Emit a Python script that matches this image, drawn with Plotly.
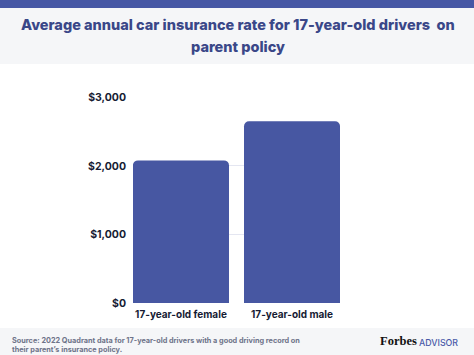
import plotly.graph_objects as go

categories = ["17-year-old female", "17-year-old male"]
rates = [2080, 2650]
tick_vals = [0, 1000, 2000, 3000]
tick_text = ["$0", "$1,000", "$2,000", "$3,000"]

W, H = 474, 355
ML, MR, MT, MB = 133, 134, 97, 52
PW, PH = W - ML - MR, H - MT - MB

def px_x(x):
    return (x - ML) / PW

def px_y(y):
    return (H - MB - y) / PH

BLUE = "#4757A2"
NAVY = "#3A4788"
DARK = "#161B33"

fig = go.Figure(go.Bar(
    x=categories, y=rates, marker=dict(color=BLUE, line=dict(width=0)),
    width=0.865, hoverinfo="skip",
))

shapes = [
    dict(type="rect", xref="paper", yref="paper", x0=px_x(-5), x1=px_x(W + 5),
         y0=px_y(-5), y1=px_y(8), fillcolor="#4657A5", line=dict(width=0), layer="below"),
    dict(type="rect", xref="paper", yref="paper", x0=px_x(-5), x1=px_x(W + 5),
         y0=px_y(8), y1=px_y(64), fillcolor="#F5F6F8", line=dict(width=0), layer="below"),
    dict(type="rect", xref="paper", yref="paper", x0=px_x(-5), x1=px_x(W + 5),
         y0=px_y(328), y1=px_y(H + 5), fillcolor="#F5F6F8", line=dict(width=0), layer="below"),
]

TF = "Inter"
annotations = [
    dict(text="Average annual car insurance rate for 17-year-old drivers  on",
         xref="paper", yref="paper", x=px_x(238), y=px_y(25), xanchor="center", yanchor="middle",
         showarrow=False, font=dict(family=TF, size=14.5, color=NAVY, weight=800)),
    dict(text="parent policy",
         xref="paper", yref="paper", x=px_x(238), y=px_y(46), xanchor="center", yanchor="middle",
         showarrow=False, font=dict(family=TF, size=14.5, color=NAVY, weight=800)),
    dict(text="Source: 2022 Quadrant data for 17-year-old drivers with a good driving record on",
         xref="paper", yref="paper", x=px_x(10), y=px_y(340.5), xanchor="left", yanchor="middle",
         showarrow=False, font=dict(family=TF, size=7.3, color="#6E7389", weight=700)),
    dict(text="their parent\u2019s insurance policy.",
         xref="paper", yref="paper", x=px_x(10), y=px_y(349.5), xanchor="left", yanchor="middle",
         showarrow=False, font=dict(family=TF, size=7.3, color="#6E7389", weight=700)),
    dict(text="Forbes",
         xref="paper", yref="paper", x=px_x(378), y=px_y(341), xanchor="left", yanchor="middle",
         showarrow=False, font=dict(family="Liberation Serif", size=12.5, color="#111111", weight=700)),
    dict(text="ADVISOR",
         xref="paper", yref="paper", x=px_x(417), y=px_y(342), xanchor="left", yanchor="middle",
         showarrow=False, font=dict(family=TF, size=8.8, color="#4A5BA8", weight=500)),
]

fig.update_layout(
    width=W, height=H,
    margin=dict(l=ML, r=MR, t=MT, b=MB, pad=0),
    paper_bgcolor="white", plot_bgcolor="white",
    barcornerradius=5,
    showlegend=False,
    shapes=shapes, annotations=annotations,
    xaxis=dict(range=[-0.432, 1.432], showgrid=False, showline=False, ticks="",
               tickfont=dict(family=TF, size=10, color=DARK, weight=700),
               ticklabelstandoff=4, fixedrange=True),
    yaxis=dict(range=[0, 3005], tickvals=tick_vals, ticktext=tick_text,
               showgrid=True, gridcolor="#E4E6F1", gridwidth=1, zeroline=False,
               showline=False, ticks="", ticklabelstandoff=6,
               tickfont=dict(family=TF, size=10.5, color=DARK, weight=700), fixedrange=True),
)

fig.write_html("out.html", config={"displayModeBar": False},
               post_script="document.body.style.margin='0';document.body.style.padding='0';")
